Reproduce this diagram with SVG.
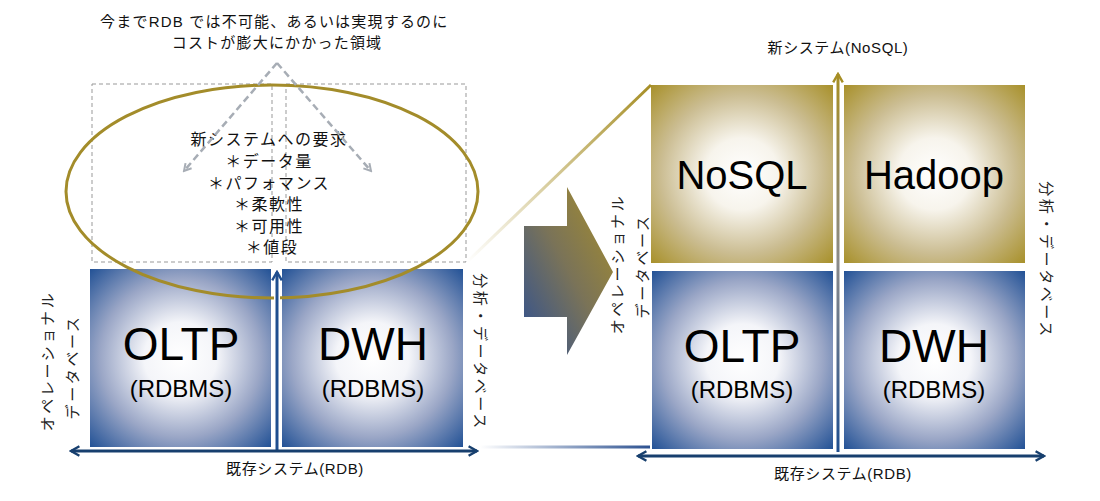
<svg xmlns="http://www.w3.org/2000/svg" width="1100" height="501" viewBox="0 0 1100 501">
<style>
.jp{font-family:"Liberation Sans","Noto Sans CJK JP",sans-serif;fill:#111;}
.big{font-family:"Liberation Sans",Arial,sans-serif;fill:#000;text-anchor:middle;}
.lbl{font-size:15px;text-anchor:middle;letter-spacing:2.6px;fill:#222;}
.axis{font-size:15px;text-anchor:middle;letter-spacing:0.6px;}
.dash{fill:none;stroke:#999;stroke-width:1;stroke-dasharray:4 3;}
</style>
<defs>
<radialGradient id="gBlue" cx="0.5" cy="0.5" r="0.72">
<stop offset="0" stop-color="#ffffff"/>
<stop offset="0.28" stop-color="#f4f5f9"/>
<stop offset="0.62" stop-color="#9aa6c6"/>
<stop offset="1" stop-color="#1c4d93"/>
</radialGradient>
<radialGradient id="gGold" cx="0.5" cy="0.5" r="0.72">
<stop offset="0" stop-color="#ffffff"/>
<stop offset="0.28" stop-color="#f7f4ec"/>
<stop offset="0.62" stop-color="#cbbd92"/>
<stop offset="1" stop-color="#a68e25"/>
</radialGradient>
<linearGradient id="gArrow" x1="0" y1="1" x2="1" y2="0">
<stop offset="0" stop-color="#2e4f92"/>
<stop offset="0.5" stop-color="#7a7358"/>
<stop offset="1" stop-color="#a88f2a"/>
</linearGradient>
<linearGradient id="gVert" gradientUnits="userSpaceOnUse" x1="838" y1="451" x2="838" y2="75">
<stop offset="0" stop-color="#1f4e8f"/>
<stop offset="0.5" stop-color="#8a8a8a"/>
<stop offset="1" stop-color="#a68e25"/>
</linearGradient>
<linearGradient id="gDiagTop" gradientUnits="userSpaceOnUse" x1="467" y1="262" x2="651" y2="85">
<stop offset="0" stop-color="#ffffff"/>
<stop offset="1" stop-color="#a68e25"/>
</linearGradient>
<linearGradient id="gDiagBot" gradientUnits="userSpaceOnUse" x1="480" y1="447" x2="652" y2="447">
<stop offset="0" stop-color="#ffffff"/>
<stop offset="1" stop-color="#2a4f8f"/>
</linearGradient>
<marker id="mNavy" viewBox="0 0 10 10" refX="8" refY="5" markerWidth="4" markerHeight="4" orient="auto-start-reverse" markerUnits="strokeWidth">
<path d="M1,1 L8,5 L1,9" fill="none" stroke="#173f6e" stroke-width="2"/>
</marker>
<marker id="mBlue" viewBox="0 0 10 10" refX="8" refY="5" markerWidth="4" markerHeight="4" orient="auto" markerUnits="strokeWidth">
<path d="M1,1 L8,5 L1,9" fill="none" stroke="#1f4e8f" stroke-width="2"/>
</marker>
<marker id="mGold" viewBox="0 0 10 10" refX="8" refY="5" markerWidth="4" markerHeight="4" orient="auto" markerUnits="strokeWidth">
<path d="M1,1 L8,5 L1,9" fill="none" stroke="#a68e25" stroke-width="2"/>
</marker>
<marker id="mGray" viewBox="0 0 10 10" refX="8" refY="5" markerWidth="4" markerHeight="4" orient="auto" markerUnits="strokeWidth">
<path d="M1,1 L8,5 L1,9" fill="none" stroke="#a7adb5" stroke-width="2"/>
</marker>
</defs>

<!-- left panel -->
<g id="oltp-left">
<rect x="90" y="269" width="181" height="178" fill="url(#gBlue)"/>
<text class="big" x="181" y="360" font-size="46">OLTP</text>
<text class="big" x="181" y="397" font-size="24">(RDBMS)</text>
</g>
<g id="dwh-left">
<rect x="282" y="269" width="181" height="178" fill="url(#gBlue)"/>
<text class="big" x="373" y="360" font-size="46">DWH</text>
<text class="big" x="373" y="397" font-size="24">(RDBMS)</text>
</g>
<g id="zone-left">
<rect class="dash" x="92" y="84" width="180" height="178"/>
<rect class="dash" x="286" y="84" width="180" height="178"/>
</g>
<g id="requirements">
<ellipse cx="272" cy="191.5" rx="206" ry="106.5" fill="none" stroke="#a38c2a" stroke-width="3"/>
<text class="jp" font-size="16" letter-spacing="1.5" text-anchor="middle">
<tspan x="272" y="145">新システムへの要求</tspan>
<tspan x="272" y="167">＊データ量</tspan>
<tspan x="272" y="189">＊パフォマンス</tspan>
<tspan x="272" y="210">＊柔軟性</tspan>
<tspan x="272" y="232">＊可用性</tspan>
<tspan x="272" y="253">＊値段</tspan>
</text>
</g>
<g id="caption-top">
<text class="jp" font-size="15" letter-spacing="1.2" text-anchor="middle">
<tspan x="277" y="27">今までRDB では不可能、あるいは実現するのに</tspan>
<tspan x="277" y="48">コストが膨大にかかった領域</tspan>
</text>
</g>
<g id="labels-left">
<text class="jp lbl" transform="translate(53,361) rotate(-90)">オペレーショナル</text>
<text class="jp lbl" transform="translate(78,367) rotate(-90)">データベース</text>
<text class="jp lbl" transform="translate(475,352) rotate(90)">分析・データベース</text>
<text class="jp axis" x="295" y="474">既存システム(RDB)</text>
</g>

<!-- transition -->
<g id="big-arrow">
<polygon points="524,226 567,226 567,187 613,272 567,355 567,317 524,317" fill="url(#gArrow)"/>
</g>

<!-- right panel -->
<g id="nosql">
<rect x="651" y="85" width="182" height="178" fill="url(#gGold)"/>
<text class="big" x="742" y="189" font-size="40">NoSQL</text>
</g>
<g id="hadoop">
<rect x="844" y="85" width="181" height="178" fill="url(#gGold)"/>
<text class="big" x="934" y="189" font-size="40">Hadoop</text>
</g>
<g id="oltp-right">
<rect x="652" y="271" width="181" height="178" fill="url(#gBlue)"/>
<text class="big" x="742" y="362" font-size="46">OLTP</text>
<text class="big" x="742" y="398" font-size="24">(RDBMS)</text>
</g>
<g id="dwh-right">
<rect x="844" y="271" width="181" height="178" fill="url(#gBlue)"/>
<text class="big" x="934" y="362" font-size="46">DWH</text>
<text class="big" x="934" y="398" font-size="24">(RDBMS)</text>
</g>
<g id="labels-right">
<text class="jp lbl" transform="translate(623,264) rotate(-90)">オペレーショナル</text>
<text class="jp lbl" transform="translate(648,266) rotate(-90)">データベース</text>
<text class="jp lbl" transform="translate(1041,260) rotate(90)">分析・データベース</text>
<text class="jp axis" x="843" y="479">既存システム(RDB)</text>
<text class="jp axis" x="838" y="53">新システム(NoSQL)</text>
</g>

<g id="connectors">
<line x1="277" y1="63" x2="184" y2="171" stroke="#a7adb5" stroke-width="2.5" stroke-dasharray="7 4" marker-end="url(#mGray)"/>
<line x1="277" y1="63" x2="371" y2="171" stroke="#a7adb5" stroke-width="2.5" stroke-dasharray="7 4" marker-end="url(#mGray)"/>
<line x1="277" y1="449" x2="277" y2="272" stroke="#fff" stroke-width="6"/>
<line x1="277" y1="450" x2="277" y2="272" stroke="#1f4e8f" stroke-width="3" marker-end="url(#mBlue)"/>
<line x1="71" y1="451" x2="477" y2="451" stroke="#173f6e" stroke-width="3" marker-start="url(#mNavy)" marker-end="url(#mNavy)"/>
<line x1="838" y1="451" x2="838" y2="74" stroke="#fff" stroke-width="6"/>
<line x1="838" y1="452" x2="838" y2="74" stroke="url(#gVert)" stroke-width="3" marker-end="url(#mGold)"/>
<line x1="638" y1="456" x2="1044" y2="456" stroke="#173f6e" stroke-width="3" marker-start="url(#mNavy)" marker-end="url(#mNavy)"/>
<line x1="467" y1="262" x2="651" y2="85" stroke="url(#gDiagTop)" stroke-width="3"/>
<line x1="480" y1="447" x2="650" y2="447" stroke="url(#gDiagBot)" stroke-width="3"/>
</g>
</svg>
